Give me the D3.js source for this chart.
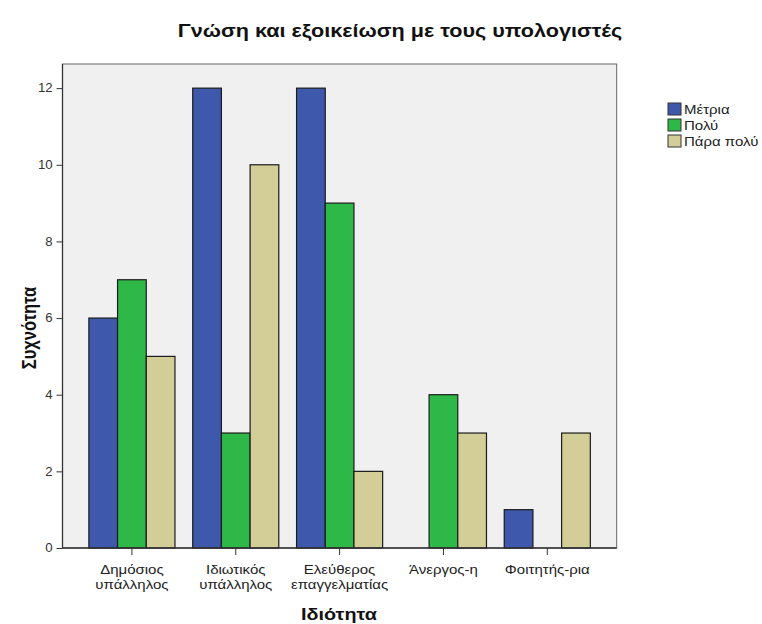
<!DOCTYPE html>
<html><head><meta charset="utf-8">
<script src="https://cdn.jsdelivr.net/npm/d3@7"></script>
<style>body{margin:0;background:#fff;}svg{display:block;font-family:Arial,"Liberation Sans",sans-serif;}</style>
</head><body><div id="chart"></div>
<script>
const categories = [["Δημόσιος","υπάλληλος"],["Ιδιωτικός","υπάλληλος"],["Ελεύθερος","επαγγελματίας"],["Άνεργος-η"],["Φοιτητής-ρια"]];
const seriesNames = ["Μέτρια","Πολύ","Πάρα πολύ"];
const metria = [6,12,12,0,1];
const poly = [7,3,9,4,0];
const paraPoly = [5,10,2,3,3];
const yTicks = [0,2,4,6,8,10,12];
const colors = ["#3e58ac","#2eb848","#d3ce97"];
const title = "Γνώση και εξοικείωση με τους υπολογιστές";
const xTitle = "Ιδιότητα";
const yTitle = "Συχνότητα";

const W=762,H=624, SX=1.2;
const m={left:62.5,right:616.7,top:64,bottom:548};
const svg=d3.select("#chart").append("svg").attr("width",W).attr("height",H);
const series=[metria,poly,paraPoly];
const catKeys=categories.map((c,i)=>i);
const x=d3.scaleBand().domain(catKeys).range([m.left,m.right]).paddingInner(0.171).paddingOuter(0.254);
const xs=d3.scaleBand().domain([0,1,2]).range([0,x.bandwidth()]);
const y=d3.scaleLinear().domain([0,12.63]).range([m.bottom,m.top]);

function addText(px,py,str,o){
  const g=svg.append("g").attr("transform",`translate(${px},${py}) ${o.rotate?`rotate(${o.rotate})`:''} scale(${o.sx||1},${o.sy||1})`);
  return g.append("text").attr("text-anchor",o.anchor||"middle").attr("font-size",o.size).attr("font-weight",o.weight||"normal").attr("fill",o.fill||"#222").text(str);
}

svg.append("rect").attr("x",m.left).attr("y",m.top).attr("width",m.right-m.left).attr("height",m.bottom-m.top)
  .attr("fill","#f0f0f0").attr("stroke","#666").attr("stroke-width",1);

catKeys.forEach(ci=>{
  series.forEach((s,si)=>{
    if(s[ci]>0){
      svg.append("rect").attr("x",x(ci)+xs(si)).attr("y",y(s[ci])).attr("width",xs.bandwidth()).attr("height",y(0)-y(s[ci]))
        .attr("fill",colors[si]).attr("stroke","#1a1a1a").attr("stroke-width",1.2);
    }
  });
});

// axes
const ya=d3.axisLeft(y).tickValues(yTicks).tickSize(6).tickPadding(3).tickFormat(d3.format("d"));
const gy=svg.append("g").attr("transform",`translate(${m.left},0)`).call(ya);
gy.select(".domain").remove();
gy.selectAll("line").attr("stroke","#333");
gy.selectAll("text").attr("font-size",12).attr("fill","#333").attr("font-family","Arial,'Liberation Sans',sans-serif").attr("transform","scale(1.1,1)");
svg.append("line").attr("x1",m.left).attr("x2",m.left).attr("y1",m.top).attr("y2",m.bottom).attr("stroke","#333").attr("stroke-width",1.3);
svg.append("line").attr("x1",m.left).attr("x2",m.right).attr("y1",m.bottom).attr("y2",m.bottom).attr("stroke","#333").attr("stroke-width",1.3);

const xa=d3.axisBottom(x).tickSize(7).tickFormat("");
const gx=svg.append("g").attr("transform",`translate(0,${m.bottom})`).call(xa);
gx.select(".domain").remove();
gx.selectAll("line").attr("stroke","#333");
catKeys.forEach(ci=>{
  categories[ci].forEach((l,li)=>addText(x(ci)+x.bandwidth()/2,574+li*14.5,l,{size:12.5,sx:SX,fill:"#222"}));
});

addText(400,37,title,{size:18,weight:"bold",sx:SX,fill:"#111"});
addText(339,620,xTitle,{size:16.5,weight:"bold",sx:SX,fill:"#111"});
addText(36,328,yTitle,{size:16.5,weight:"bold",rotate:-90,sy:SX,fill:"#111"});

// legend
seriesNames.forEach((n,i)=>{
  svg.append("rect").attr("x",668).attr("y",103+i*16).attr("width",13).attr("height",12).attr("fill",colors[i]).attr("stroke","#333").attr("stroke-width",1);
  addText(684,114+i*16,n,{size:12.5,sx:SX,anchor:"start",fill:"#222"});
});
</script></body></html>
